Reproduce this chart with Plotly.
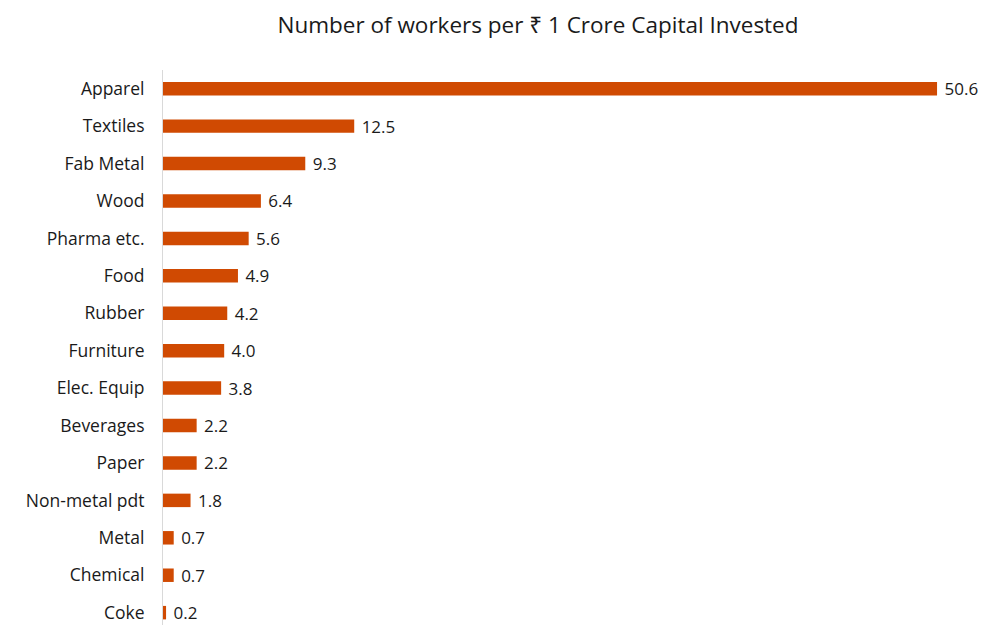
import plotly.graph_objects as go

# Workers per Rs 1 crore of capital, by industry
industries = ['Apparel', 'Textiles', 'Fab Metal', 'Wood', 'Pharma etc.', 'Food', 'Rubber',
              'Furniture', 'Elec. Equip', 'Beverages', 'Paper', 'Non-metal pdt', 'Metal',
              'Chemical', 'Coke']
workers = [50.6, 12.5, 9.3, 6.4, 5.6, 4.9, 4.2, 4.0, 3.8, 2.2, 2.2, 1.8, 0.7, 0.7, 0.2]

bar_color = '#D04A02'
font_name = 'Open Sans, Noto Sans, sans-serif'

# the page body has an 8px margin, so the figure is drawn 8px in from the window edge
W, H, OFF = 986 - 8, 625 - 8, 8

fig = go.Figure()
fig.add_trace(go.Bar(
    x=workers,
    y=industries,
    orientation='h',
    marker=dict(color=bar_color, line=dict(width=0)),
    texttemplate=' %{x:.1f}',
    textposition='outside',
    constraintext='none',
    textfont=dict(size=17, color='#1a1a1a', family=font_name),
    cliponaxis=False,
    hoverinfo='x+y',
))

fig.update_layout(
    width=W, height=H,
    paper_bgcolor='white', plot_bgcolor='white',
    margin=dict(l=163 - OFF, r=0, t=70 - OFF, b=0, autoexpand=False),
    bargap=0.64,
    showlegend=False,
    font=dict(family=font_name, size=18, color='#1a1a1a'),
    title=dict(
        text='Number of workers per ₹ 1 Crore Capital Invested',
        x=(538 - OFF) / W, xanchor='center', xref='container',
        y=1 - (25 - OFF) / H, yanchor='middle', yref='container',
        font=dict(size=22.5, color='#1a1a1a', family=font_name),
    ),
)

fig.update_xaxes(range=[0, 53.8], visible=False, showgrid=False, zeroline=False,
                 automargin=False)
fig.update_yaxes(
    categoryorder='array', categoryarray=industries,
    range=[14.33, -0.5],
    automargin=False,
    showline=True, linecolor='#d9d9d9', linewidth=1,
    showgrid=False, zeroline=False,
    ticks='outside', ticklen=14, tickcolor='rgba(0,0,0,0)',
    tickfont=dict(size=17.5, color='#1a1a1a', family=font_name),
)

fig.write_html('out.html')
